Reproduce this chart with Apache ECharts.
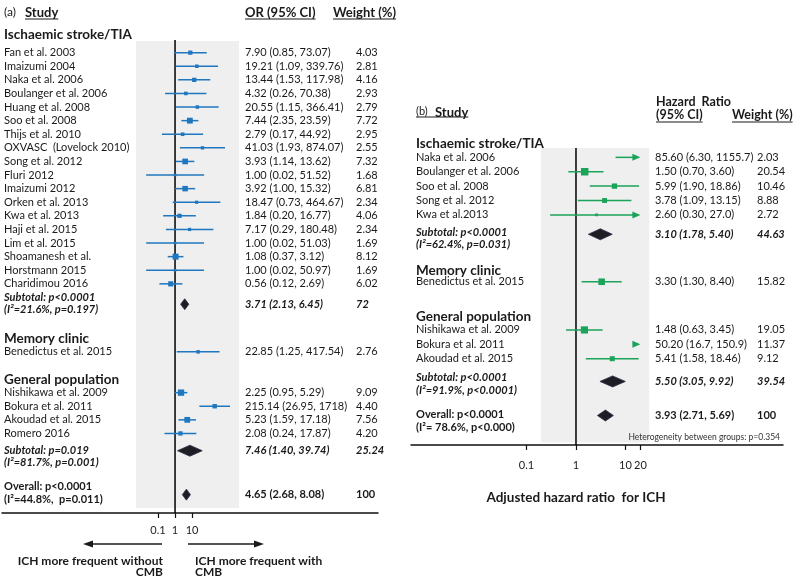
<!DOCTYPE html>
<html>
<head>
<meta charset="utf-8">
<script src="https://cdn.jsdelivr.net/npm/echarts@6/dist/echarts.min.js"></script>
<style>
html, body { margin: 0; padding: 0; background: #fff; }
#main { width: 800px; height: 579px; }
</style>
</head>
<body>
<div id="main"></div>
<script>
// ---------- panel (a): odds ratio ----------
var aGroups = ['Ischaemic stroke/TIA', 'Memory clinic', 'General population'];
var aGroupRow = [-1.3, 21.05, 24.07];

var aStudies = ['Fan et al. 2003', 'Imaizumi 2004', 'Naka et al. 2006', 'Boulanger et al. 2006', 'Huang et al. 2008',
    'Soo et al. 2008', 'Thijs et al. 2010', 'OXVASC  (Lovelock 2010)', 'Song et al. 2012', 'Fluri 2012', 'Imaizumi 2012',
    'Orken et al. 2013', 'Kwa et al. 2013', 'Haji et al. 2015', 'Lim et al. 2015', 'Shoamanesh et al.', 'Horstmann 2015',
    'Charidimou 2016', 'Benedictus et al. 2015', 'Nishikawa et al. 2009', 'Bokura et al. 2011', 'Akoudad et al. 2015', 'Romero 2016'];
var aEst = ['7.90', '19.21', '13.44', '4.32', '20.55', '7.44', '2.79', '41.03', '3.93', '1.00', '3.92', '18.47', '1.84', '7.17',
    '1.00', '1.08', '1.00', '0.56', '22.85', '2.25', '215.14', '5.23', '2.08'];
var aLow = ['0.85', '1.09', '1.53', '0.26', '1.15', '2.35', '0.17', '1.93', '1.14', '0.02', '1.00', '0.73', '0.20', '0.29',
    '0.02', '0.37', '0.02', '0.12', '1.25', '0.95', '26.95', '1.59', '0.24'];
var aHigh = ['73.07', '339.76', '117.98', '70.38', '366.41', '23.59', '44.92', '874.07', '13.62', '51.52', '15.32', '464.67',
    '16.77', '180.48', '51.03', '3.12', '50.97', '2.69', '417.54', '5.29', '1718', '17.18', '17.87'];
var aWeight = ['4.03', '2.81', '4.16', '2.93', '2.79', '7.72', '2.95', '2.55', '7.32', '1.68', '6.81', '2.34', '4.06', '2.34',
    '1.69', '8.12', '1.69', '6.02', '2.76', '9.09', '4.40', '7.56', '4.20'];
var aRow = [0, 1, 2, 3, 4, 5, 6, 7, 8, 9, 10, 11, 12, 13, 14, 15, 16, 17, 22, 25, 26, 27, 28];

var aPoolLabel1 = ['Subtotal: p<0.0001', 'Subtotal: p=0.019', 'Overall: p<0.0001'];
var aPoolLabel2 = ['(I\u00b2=21.6%, p=0.197)', '(I\u00b2=81.7%, p=0.001)', '(I\u00b2=44.8%,  p=0.011)'];
var aPoolEst = ['3.71', '7.46', '4.65'];
var aPoolLow = ['2.13', '1.40', '2.68'];
var aPoolHigh = ['6.45', '39.74', '8.08'];
var aPoolWeight = ['72', '25.24', '100'];
var aPoolRow = [18.5, 29.27, 32.5];
var aPoolTextRow = [18.0, 29.22, 31.92];
var aTicks = [0.1, 1, 10];

// ---------- panel (b): hazard ratio ----------
var bGroups = ['Ischaemic stroke/TIA', 'Memory clinic', 'General population'];
var bGroupRow = [-0.97, 7.875, 11.07];

var bStudies = ['Naka et al. 2006', 'Boulanger et al. 2006', 'Soo et al. 2008', 'Song et al. 2012', 'Kwa et al.2013',
    'Benedictus et al. 2015', 'Nishikawa et al. 2009', 'Bokura et al. 2011', 'Akoudad et al. 2015'];
var bEst = ['85.60', '1.50', '5.99', '3.78', '2.60', '3.30', '1.48', '50.20', '5.41'];
var bLow = ['6.30', '0.70', '1.90', '1.09', '0.30', '1.30', '0.63', '16.7', '1.58'];
var bHigh = ['1155.7', '3.60', '18.86', '13.15', '27.0', '8.40', '3.45', '150.9', '18.46'];
var bWeight = ['2.03', '20.54', '10.46', '8.88', '2.72', '15.82', '19.05', '11.37', '9.12'];
var bRow = [0, 1, 2, 3, 4, 8.65, 12, 13, 14];

var bPoolLabel1 = ['Subtotal: p<0.0001', 'Subtotal: p<0.0001', 'Overall: p<0.0001'];
var bPoolLabel2 = ['(I\u00b2=62.4%, p=0.031)', '(I\u00b2=91.9%, p<0.0001)', '(I\u00b2= 78.6%, p<0.000)'];
var bPoolEst = ['3.10', '5.50', '3.93'];
var bPoolLow = ['1.78', '3.05', '2.71'];
var bPoolHigh = ['5.40', '9.92', '5.69'];
var bPoolWeight = ['44.63', '39.54', '100'];
var bPoolRow = [5.35, 15.58, 17.95];
var bPoolTextRow = [5.19, 15.28, 17.9];
var bTicks = [0.1, 1, 10, 20];

var FONT = 'Lato';
var INK = '#1a1a1a';
var measureCtx = document.createElement('canvas').getContext('2d');
function textWidth(str, font) {
    measureCtx.font = font;
    return measureCtx.measureText(str).width;
}

var panelA = {
    grid: { left: 2, top: 40, width: 376, height: 473 },
    xMin: -10.18, xMax: 11.94, yMin: -0.93, yMax: 33.85,
    shade: [-2.29, 3.76, -0.86, 33.48],
    color: '#1f77bf', sq: 2.1, diamondH: 5.5,
    nameX: 4, ciX: 245, wX: 356, labelMargin: 12,
    groups: aGroups, groupRow: aGroupRow,
    studies: aStudies, est: aEst, low: aLow, high: aHigh, weight: aWeight, row: aRow,
    pool1: aPoolLabel1, pool2: aPoolLabel2, poolEst: aPoolEst, poolLow: aPoolLow, poolHigh: aPoolHigh,
    poolWeight: aPoolWeight, poolRow: aPoolRow, poolTextRow: aPoolTextRow, poolItalic: [true, true, false],
    ticks: aTicks, clip: null
};
var panelB = {
    grid: { left: 411, top: 148, width: 372, height: 297 },
    xMin: -3.333, xMax: 4.182, yMin: -0.65, yMax: 20,
    shade: [-0.707, 1.48, -0.65, 19.82],
    color: '#1ba35a', sq: 1.65, diamondH: 5.5,
    nameX: 416, ciX: 655, wX: 757, labelMargin: 15,
    groups: bGroups, groupRow: bGroupRow,
    studies: bStudies, est: bEst, low: bLow, high: bHigh, weight: bWeight, row: bRow,
    pool1: bPoolLabel1, pool2: bPoolLabel2, poolEst: bPoolEst, poolLow: bPoolLow, poolHigh: bPoolHigh,
    poolWeight: bPoolWeight, poolRow: bPoolRow, poolTextRow: bPoolTextRow, poolItalic: [true, true, false],
    ticks: bTicks, clip: 20
};

function lg(s) { return Math.log10(parseFloat(s)); }

// all text rows of a panel
function buildLabels(p) {
    var out = [];
    p.groups.forEach(function (g, i) {
        out.push({ row: p.groupRow[i], x: p.nameX, text: g, weight: 'bold', style: 'normal', size: 13.5 });
    });
    p.studies.forEach(function (s, i) {
        var ci = p.est[i] + ' (' + p.low[i] + ', ' + p.high[i] + ')';
        out.push({ row: p.row[i], x: p.nameX, text: s, weight: 'normal', style: 'normal', size: 11 });
        out.push({ row: p.row[i], x: p.ciX, text: ci, weight: 'normal', style: 'normal', size: 11 });
        out.push({ row: p.row[i], x: p.wX, text: p.weight[i], weight: 'normal', style: 'normal', size: 11 });
    });
    p.pool1.forEach(function (l, i) {
        var st = p.poolItalic[i] ? 'italic' : 'normal';
        out.push({ row: p.poolTextRow[i], x: p.nameX, text: l, weight: 'bold', style: st, size: 11 });
        out.push({ row: p.poolTextRow[i] + 0.9, x: p.nameX, text: p.pool2[i], weight: 'bold', style: st, size: 11 });
        out.push({ row: p.poolRow[i], x: p.ciX, text: p.poolEst[i] + ' (' + p.poolLow[i] + ', ' + p.poolHigh[i] + ')', weight: 'bold', style: st, size: 11 });
        out.push({ row: p.poolRow[i], x: p.wX, text: p.poolWeight[i], weight: 'bold', style: st, size: 11 });
    });
    return out;
}

function makeSeries(p, gi) {
    var labels = buildLabels(p);
    var clipHi = p.clip ? Math.log10(p.clip) : Infinity;
    var frame = {
        type: 'custom', xAxisIndex: gi, yAxisIndex: gi, z: 1, silent: true,
        data: [[0, 0]],
        renderItem: function (params, api) {
            var a = api.coord([p.shade[0], p.shade[2]]);
            var b = api.coord([p.shade[1], p.shade[3]]);
            var t = api.coord([0, p.yMin]);
            var u = api.coord([0, p.yMax]);
            return {
                type: 'group', children: [
                    { type: 'rect', shape: { x: a[0], y: a[1], width: b[0] - a[0], height: b[1] - a[1] }, style: { fill: '#efefef' } },
                    { type: 'line', shape: { x1: t[0], y1: t[1], x2: u[0], y2: u[1] }, style: { stroke: '#000', lineWidth: 1.5 } }
                ]
            };
        }
    };
    var studies = {
        type: 'custom', xAxisIndex: gi, yAxisIndex: gi, z: 3, silent: true,
        data: p.studies.map(function (s, i) {
            return [lg(p.est[i]), lg(p.low[i]), lg(p.high[i]), p.row[i], parseFloat(p.weight[i])];
        }),
        encode: { x: [0, 1, 2], y: 3 },
        renderItem: function (params, api) {
            var est = api.value(0), lo = api.value(1), hi = api.value(2);
            var y = api.coord([0, api.value(3)])[1];
            var arrow = hi > clipHi;
            var xLo = api.coord([lo, 0])[0];
            var xHi = api.coord([Math.min(hi, clipHi), 0])[0];
            var ch = [];
            var xEnd = arrow ? xHi - 6 : xHi;
            if (xEnd > xLo) {
                ch.push({ type: 'line', shape: { x1: xLo, y1: y, x2: xEnd, y2: y }, style: { stroke: p.color, lineWidth: 1.5 } });
            }
            if (arrow) {
                ch.push({ type: 'polygon', shape: { points: [[xHi, y], [xHi - 8, y - 3.5], [xHi - 8, y + 3.5]] }, style: { fill: p.color } });
            }
            if (est <= clipHi) {
                var s = p.sq * Math.sqrt(api.value(4));
                var xe = api.coord([est, 0])[0];
                ch.push({ type: 'rect', shape: { x: xe - s / 2, y: y - s / 2, width: s, height: s }, style: { fill: p.color } });
            }
            return { type: 'group', children: ch };
        }
    };
    var pooled = {
        type: 'custom', xAxisIndex: gi, yAxisIndex: gi, z: 3, silent: true,
        data: p.poolEst.map(function (e, i) {
            return [lg(e), lg(p.poolLow[i]), lg(p.poolHigh[i]), p.poolRow[i]];
        }),
        encode: { x: [0, 1, 2], y: 3 },
        renderItem: function (params, api) {
            var c = api.coord([api.value(0), api.value(3)]);
            var l = api.coord([api.value(1), api.value(3)]);
            var r = api.coord([api.value(2), api.value(3)]);
            var h = p.diamondH;
            return {
                type: 'polygon',
                shape: { points: [[l[0], c[1]], [c[0], c[1] - h], [r[0], c[1]], [c[0], c[1] + h]] },
                style: { fill: '#1d1d26', stroke: '#2c2c44', lineWidth: 0.8 }
            };
        }
    };
    var text = {
        type: 'custom', xAxisIndex: gi, yAxisIndex: gi, z: 4, silent: true, clip: false,
        data: labels.map(function (l) { return [0, l.row]; }),
        renderItem: function (params, api) {
            var l = labels[params.dataIndex];
            var y = api.coord([0, api.value(1)])[1];
            return {
                type: 'text', x: l.x, y: y,
                style: {
                    text: l.text, fill: INK, fontFamily: FONT, fontSize: l.size,
                    fontWeight: l.weight, fontStyle: l.style, align: 'left', verticalAlign: 'middle'
                }
            };
        }
    };
    return [frame, studies, pooled, text];
}

function makeX(p, gi) {
    var tv = p.ticks.map(function (t) { return Math.log10(t); });
    return {
        type: 'value', gridIndex: gi, min: p.xMin, max: p.xMax,
        axisLine: { onZero: false, lineStyle: { color: '#111', width: 1.5 } },
        axisTick: { customValues: tv, length: 5, lineStyle: { color: '#111', width: 1.2 } },
        axisLabel: {
            customValues: tv, margin: p.labelMargin, fontFamily: FONT, fontSize: 11, color: '#222',
            formatter: function (v) { return String(+Math.pow(10, v).toPrecision(4)); }
        },
        splitLine: { show: false }
    };
}
function makeY(p, gi) {
    return { type: 'value', gridIndex: gi, inverse: true, min: p.yMin, max: p.yMax, show: false };
}

function hdr(x, y, str, size, weight, align) {
    return {
        type: 'text', x: x, y: y, silent: true, z: 10,
        style: { text: str, fill: INK, fontFamily: FONT, fontSize: size, fontWeight: weight || 'normal', align: align || 'left', verticalAlign: 'middle' }
    };
}
function uline(x1, x2, y) {
    return { type: 'line', silent: true, shape: { x1: x1, y1: y, x2: x2, y2: y }, style: { stroke: INK, lineWidth: 1.2 } };
}
function underlined(x, y, str, size, lineY) {
    var w = textWidth(str, 'bold ' + size + 'px ' + FONT);
    return [hdr(x, y, str, size, 'bold'), uline(x, x + w, lineY)];
}

var graphics = [];
graphics.push(hdr(4, 12, '(a)', 12));
graphics = graphics.concat(underlined(25, 13, 'Study', 13, 19));
graphics = graphics.concat(underlined(245, 13, 'OR (95% CI)', 13, 19));
graphics = graphics.concat(underlined(333, 13, 'Weight (%)', 13, 19));
graphics.push(hdr(416, 111, '(b)', 11));
graphics.push(hdr(435, 113, 'Study', 13, 'bold'));
graphics.push(uline(416, 435 + textWidth('Study', 'bold 13px ' + FONT), 117));
graphics.push(hdr(656, 102, 'Hazard  Ratio', 12.5, 'bold'));
graphics = graphics.concat(underlined(656, 115, '(95% CI)', 12.5, 122));
graphics = graphics.concat(underlined(732, 115, 'Weight (%)', 12.5, 122));
graphics.push({
    type: 'text', x: 780, y: 437, silent: true, z: 10,
    style: { text: 'Heterogeneity between groups: p=0.354', fill: '#333', fontFamily: FONT, fontSize: 8.5, align: 'right', verticalAlign: 'middle' }
});
graphics.push(hdr(576, 498, 'Adjusted hazard ratio  for ICH', 13.5, 'bold', 'center'));
// direction arrows under panel (a)
graphics.push({ type: 'line', silent: true, shape: { x1: 162, y1: 544, x2: 90, y2: 544 }, style: { stroke: INK, lineWidth: 1.5 } });
graphics.push({ type: 'polygon', silent: true, shape: { points: [[83, 544], [93, 540.5], [93, 547.5]] }, style: { fill: INK } });
graphics.push({ type: 'line', silent: true, shape: { x1: 188, y1: 544, x2: 257, y2: 544 }, style: { stroke: INK, lineWidth: 1.5 } });
graphics.push({ type: 'polygon', silent: true, shape: { points: [[264, 544], [254, 540.5], [254, 547.5]] }, style: { fill: INK } });
graphics.push(hdr(163, 561, 'ICH more frequent without', 12, 'bold', 'right'));
graphics.push(hdr(163, 572, 'CMB', 12, 'bold', 'right'));
graphics.push(hdr(195, 561, 'ICH more frequent with', 12, 'bold'));
graphics.push(hdr(195, 572, 'CMB', 12, 'bold'));

var myChart = echarts.init(document.getElementById('main'));
myChart.setOption({
    backgroundColor: '#fff',
    animation: false,
    grid: [panelA.grid, panelB.grid],
    xAxis: [makeX(panelA, 0), makeX(panelB, 1)],
    yAxis: [makeY(panelA, 0), makeY(panelB, 1)],
    series: makeSeries(panelA, 0).concat(makeSeries(panelB, 1)),
    graphic: { elements: graphics }
});
</script>
</body>
</html>
